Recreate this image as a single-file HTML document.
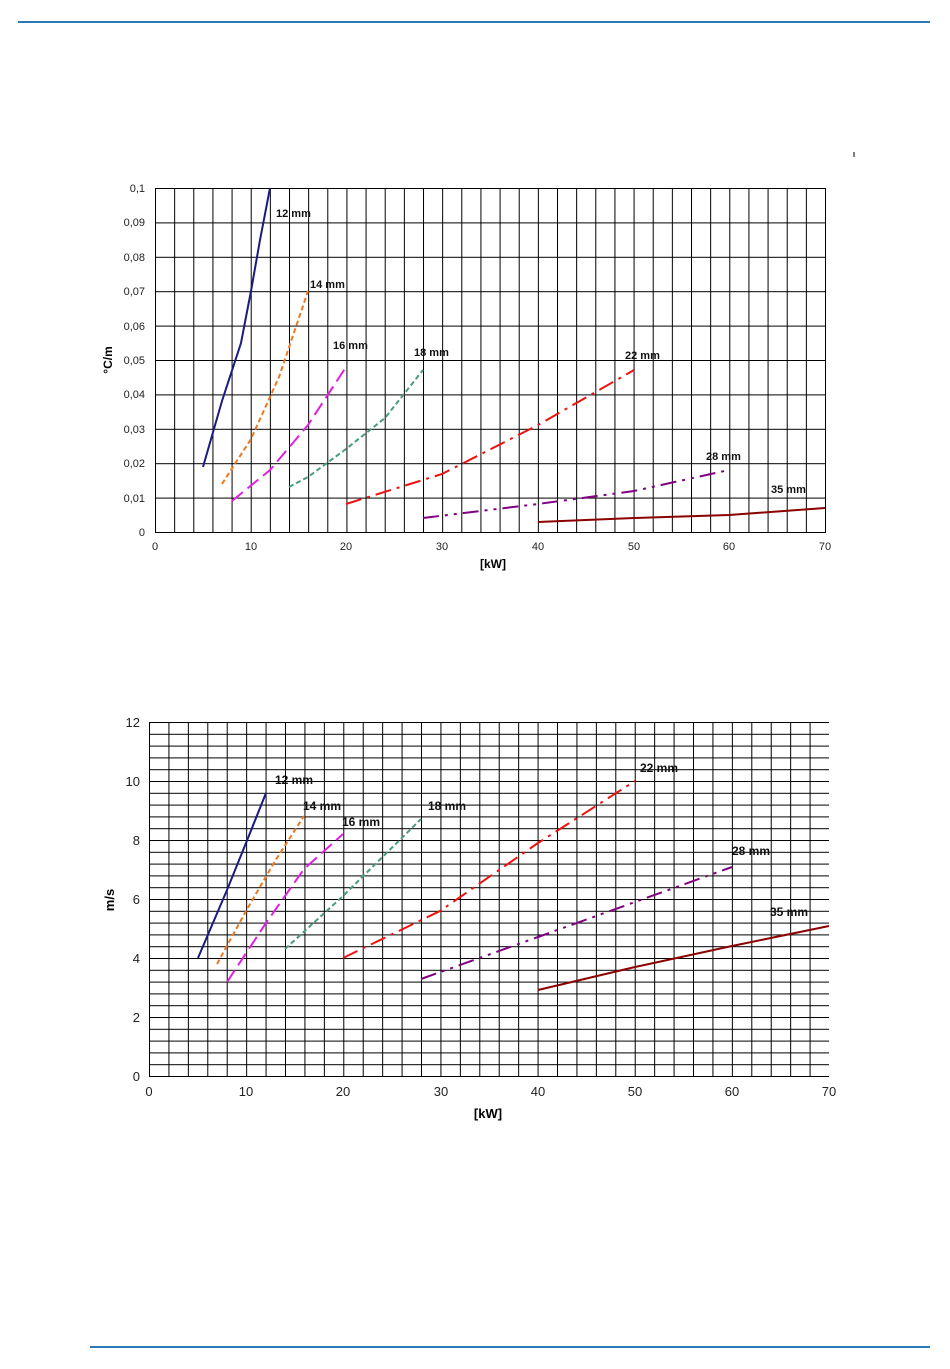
<!DOCTYPE html>
<html><head><meta charset="utf-8"><style>
html,body{margin:0;padding:0;background:#fff;}
svg{display:block;font-family:"Liberation Sans",Arial,sans-serif;}
</style></head><body>
<svg width="950" height="1369" viewBox="0 0 950 1369" xmlns="http://www.w3.org/2000/svg">
<defs>
<pattern id="v1" x="155" y="0" width="19.143" height="10" patternUnits="userSpaceOnUse"><line x1="0.5" y1="0" x2="0.5" y2="10" stroke="#000" stroke-width="1"/></pattern>
<pattern id="h1" x="0" y="188" width="10" height="34.4" patternUnits="userSpaceOnUse"><line x1="0" y1="0.5" x2="10" y2="0.5" stroke="#000" stroke-width="1"/></pattern>
<pattern id="v2" x="149" y="0" width="19.429" height="10" patternUnits="userSpaceOnUse"><line x1="0.5" y1="0" x2="0.5" y2="10" stroke="#000" stroke-width="1"/></pattern>
<pattern id="h2" x="0" y="722" width="10" height="11.8" patternUnits="userSpaceOnUse"><line x1="0" y1="0.5" x2="10" y2="0.5" stroke="#000" stroke-width="1"/></pattern>
</defs>
<line x1="18" y1="22" x2="930" y2="22" stroke="#2a7ab8" stroke-width="2"/>
<line x1="90" y1="1347" x2="930" y2="1347" stroke="#2a7ab8" stroke-width="2"/>
<line x1="854" y1="152" x2="854" y2="157" stroke="#000" stroke-width="1"/>

<!-- TOP CHART -->
<rect x="155" y="188" width="670" height="344" fill="url(#v1)"/>
<rect x="155" y="188" width="671" height="344" fill="url(#h1)"/>
<line x1="825.5" y1="188" x2="825.5" y2="532" stroke="#000"/>
<line x1="155" y1="532.5" x2="826" y2="532.5" stroke="#000"/>
<g font-size="11" fill="#222" text-anchor="end">
<text x="145" y="192">0,1</text><text x="145" y="226">0,09</text><text x="145" y="261">0,08</text><text x="145" y="295">0,07</text><text x="145" y="330">0,06</text><text x="145" y="364">0,05</text><text x="145" y="398">0,04</text><text x="145" y="433">0,03</text><text x="145" y="467">0,02</text><text x="145" y="502">0,01</text><text x="145" y="536">0</text>
</g>
<g font-size="11" fill="#222" text-anchor="middle">
<text x="155" y="550">0</text><text x="251" y="550">10</text><text x="346" y="550">20</text><text x="442" y="550">30</text><text x="538" y="550">40</text><text x="634" y="550">50</text><text x="729" y="550">60</text><text x="825" y="550">70</text>
</g>
<text x="493" y="568" font-size="12" font-weight="bold" text-anchor="middle">[kW]</text>
<text transform="translate(112,360) rotate(-90)" font-size="12" font-weight="bold" text-anchor="middle">°C/m</text>
<g fill="none" stroke-width="2">
<polyline stroke="#1a1a80" points="203,467 222,401 241,343 251,291 260,240 270,188"/>
<polyline stroke="#f07820" stroke-dasharray="5,3" points="222,484 251,439 279,377 308,291"/>
<polyline stroke="#e020e0" stroke-dasharray="14,6" points="232,501 270,470 308,425 346,367"/>
<polyline stroke="#4a9a80" stroke-dasharray="5,3" points="289,487 308,477 346,449 385,418 423,370"/>
<polyline stroke="#f01010" stroke-dasharray="16,6,3,6" points="346,504 442,474 538,425 634,370"/>
<polyline stroke="#800080" stroke-dasharray="16,6,3,6,3,6" points="423,518 538,504 634,491 729,470"/>
<polyline stroke="#8b0000" points="538,522 634,518 729,515 825,508"/>
</g>
<g font-size="11" font-weight="bold" fill="#111">
<text x="276" y="217">12 mm</text><text x="310" y="288">14 mm</text><text x="333" y="349">16 mm</text><text x="414" y="356">18 mm</text><text x="625" y="359">22 mm</text><text x="706" y="460">28 mm</text><text x="771" y="493">35 mm</text>
</g>

<!-- BOTTOM CHART -->
<rect x="149" y="722" width="680" height="354" fill="url(#v2)"/>
<rect x="149" y="722" width="680" height="354" fill="url(#h2)"/>
<line x1="149" y1="1076.5" x2="829" y2="1076.5" stroke="#000"/>
<g font-size="13" fill="#222" text-anchor="end">
<text x="140" y="727">12</text><text x="140" y="786">10</text><text x="140" y="845">8</text><text x="140" y="904">6</text><text x="140" y="963">4</text><text x="140" y="1022">2</text><text x="140" y="1081">0</text>
</g>
<g font-size="13" fill="#222" text-anchor="middle">
<text x="149" y="1096">0</text><text x="246" y="1096">10</text><text x="343" y="1096">20</text><text x="441" y="1096">30</text><text x="538" y="1096">40</text><text x="635" y="1096">50</text><text x="732" y="1096">60</text><text x="829" y="1096">70</text>
</g>
<text x="488" y="1118" font-size="13" font-weight="bold" text-anchor="middle">[kW]</text>
<text transform="translate(114,900) rotate(-90)" font-size="13" font-weight="bold" text-anchor="middle">m/s</text>
<g fill="none" stroke-width="2">
<polyline stroke="#1a1a80" points="198,958 227,890 246,843 266,793"/>
<polyline stroke="#f07820" stroke-dasharray="5,3" points="217,964 246,911 275,861 304,816"/>
<polyline stroke="#e020e0" stroke-dasharray="14,6" points="227,982 266,923 304,869 343,834"/>
<polyline stroke="#4a9a80" stroke-dasharray="5,3" points="285,949 343,896 421,819"/>
<polyline stroke="#f01010" stroke-dasharray="16,6,3,6" points="343,958 440,911 538,843 635,781"/>
<polyline stroke="#800080" stroke-dasharray="16,6,3,6,3,6" points="421,979 538,937 635,902 732,867"/>
<polyline stroke="#8b0000" points="538,990 635,967 732,946 829,926"/>
</g>
<g font-size="12" font-weight="bold" fill="#111">
<text x="275" y="784">12 mm</text><text x="303" y="810">14 mm</text><text x="342" y="826">16 mm</text><text x="428" y="810">18 mm</text><text x="640" y="772">22 mm</text><text x="732" y="855">28 mm</text><text x="770" y="916">35 mm</text>
</g>
</svg>
</body></html>
